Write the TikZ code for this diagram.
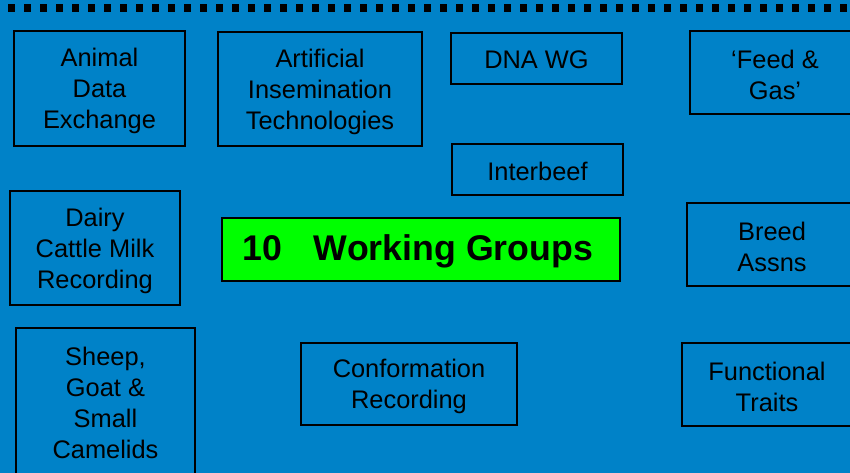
\documentclass[tikz,border=0pt]{standalone}
\usepackage{fontspec}
\setmainfont{Liberation Sans}
\definecolor{bgblue}{HTML}{0082C8}
\definecolor{wggreen}{HTML}{00FF00}
\tikzset{
  wgbox/.style={draw=black, line width=2pt, rectangle, inner sep=0pt},
  wgtext/.style={inner sep=0pt, align=center, yshift=-2.5pt,
    font=\fontsize{25.4}{31}\selectfont, text=black},
  titlebox/.style={draw=black, line width=2pt, rectangle, fill=wggreen, inner sep=0pt},
  titletext/.style={font=\fontsize{35.7}{40}\selectfont\bfseries, anchor=west, inner sep=0pt, text=black},
  dotsq/.style={fill=black}
}
\begin{document}
\begin{tikzpicture}[x=1pt,y=-1pt]
\useasboundingbox (0,0) rectangle (850,473);
\clip (0,0) rectangle (850,473);
\fill[bgblue] (0,0) rectangle (850,473);
\foreach \k in {0,...,52} {
  \fill[dotsq] ({8.3+16*\k},4) rectangle ++(7,7.8);
}
\node[wgbox, minimum width=171pt, minimum height=115pt] (ade) at (99.5,88.5) {};
\node[wgtext] (adet) at (ade.center) {Animal\\Data\\Exchange};
\node[wgbox, minimum width=204pt, minimum height=114pt] (ait) at (320,89) {};
\node[wgtext] (aitt) at (ait.center) {Artificial\\Insemination\\Technologies};
\node[wgbox, minimum width=171pt, minimum height=51pt] (dna) at (536.5,58.5) {};
\node[wgtext, yshift=1pt] (dnat) at (dna.center) {DNA WG};
\node[wgbox, minimum width=170pt, minimum height=83pt] (feed) at (775,72.5) {};
\node[wgtext] (feedt) at (feed.center) {`Feed \&\\Gas'};
\node[wgbox, minimum width=171pt, minimum height=51pt] (ib) at (537.5,169.5) {};
\node[wgtext, yshift=1pt] (ibt) at (ib.center) {Interbeef};
\node[wgbox, minimum width=170pt, minimum height=114pt] (dairy) at (95,248) {};
\node[wgtext] (dairyt) at (dairy.center) {Dairy\\Cattle Milk\\Recording};
\node[titlebox, minimum width=398pt, minimum height=63pt] (wg) at (421,249) {};
\node[titletext] (wgt) at (242,251.5) {10\hspace{0.9em}Working Groups};
\node[wgbox, minimum width=170pt, minimum height=83pt] (breed) at (772,244.5) {};
\node[wgtext] (breedt) at (breed.center) {Breed\\Assns};
\node[wgbox, minimum width=179pt, minimum height=148pt] (sheep) at (105.5,402) {};
\node[wgtext, yshift=2pt] (sheept) at (sheep.center) {Sheep,\\Goat \&\\Small\\Camelids};
\node[wgbox, minimum width=216pt, minimum height=82pt] (conf) at (409,384) {};
\node[wgtext] (conft) at (conf.center) {Conformation\\Recording};
\node[wgbox, minimum width=170pt, minimum height=83pt] (ft) at (767,384.5) {};
\node[wgtext] (ftt) at (ft.center) {Functional\\Traits};
\end{tikzpicture}
\end{document}
